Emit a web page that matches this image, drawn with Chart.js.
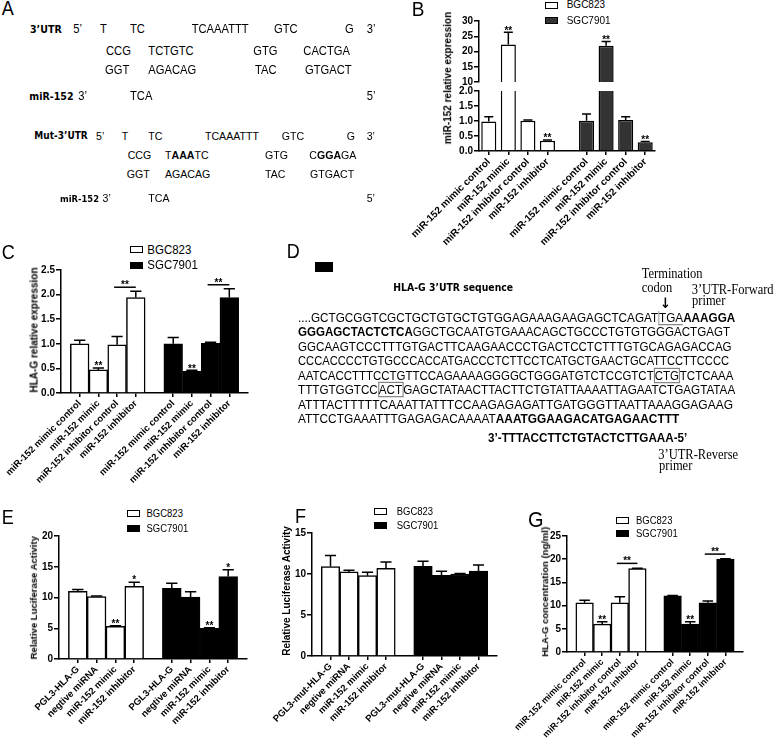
<!DOCTYPE html>
<html>
<head>
<meta charset="utf-8">
<script src="https://cdn.jsdelivr.net/npm/chart.js@4.4.0/dist/chart.umd.min.js"></script>
<style>
  html, body { margin: 0; padding: 0; background: #fff; }
  #stage { position: relative; width: 778px; height: 738px; overflow: hidden; background: #fff;
           font-family: "Liberation Sans", Arial, sans-serif; color: #000; }
  #stage canvas { position: absolute; }
  .t { position: absolute; white-space: nowrap; }
  .bx { border: 1px solid #777; }
  .ul { border-bottom: 1px solid #777; border-left: 1px solid #999; }
</style>
</head>
<body>
<div id="stage"></div>
<script>
// ---------- data ----------
const groups = ['BGC823', 'SGC7901'];
const mimicCats = ['miR-152 mimic control', 'miR-152 mimic', 'miR-152 inhibitor control', 'miR-152 inhibitor'];
const lucCats = ['PGL3-HLA-G', 'negtive miRNA', 'miR-152 mimic', 'miR-152 inhibitor'];
const mutCats = ['PGL3-mut-HLA-G', 'negtive miRNA', 'miR-152 mimic', 'miR-152 inhibitor'];

// B: miR-152 relative expression (broken axis)
const bBgc = [0.98, 22.3, 1.01, 0.34];
const bBgcErr = [0.16, 4.0, 0.02, 0.03];
const bSgc = [1.01, 21.9, 1.03, 0.29];
const bSgcErr = [0.22, 1.4, 0.11, 0.03];
const bStars = ['', '**', '', '**'];
const bUpperTicks = [10, 30, 5];
const bLowerTicks = [0, 2, 0.5];

// C: HLA-G relative expression
const cBgc = [1.0, 0.47, 0.98, 1.94];
const cBgcErr = [0.07, 0.04, 0.17, 0.13];
const cSgc = [1.0, 0.44, 1.01, 1.94];
const cSgcErr = [0.13, 0.02, 0.02, 0.18];
const cStars = ['', '**', '', ''];
const cBgcBracket = [2, 3, 2.15, '**'];
const cSgcBracket = [2, 3, 2.2, '**'];
const cTicks = [0, 2.5, 0.5];

// E: luciferase, wild type
const eBgc = [11.0, 10.15, 5.3, 11.8];
const eBgcErr = [0.3, 0.1, 0.1, 0.7];
const eSgc = [11.5, 10.05, 5.0, 13.4];
const eSgcErr = [0.8, 0.9, 0.1, 1.1];
const eStars = ['', '', '**', '*'];
const eTicks = [0, 20, 5];

// F: luciferase, mutant
const fBgc = [10.9, 10.25, 9.8, 10.7];
const fBgcErr = [1.35, 0.2, 0.4, 0.75];
const fSgc = [10.95, 9.85, 10.0, 10.35];
const fSgcErr = [0.6, 0.5, 0.05, 0.75];
const fStars = ['', '', '', ''];
const fTicks = [0, 15, 5];

// G: HLA-G concentration
const gBgc = [10.6, 6.0, 10.6, 18.0];
const gBgcErr = [0.55, 0.5, 1.3, 0.05];
const gSgc = [12.1, 6.0, 10.6, 20.0];
const gSgcErr = [0.05, 0.5, 0.4, 0.1];
const gStars = ['', '**', '', ''];
const gBgcBracket = [2, 3, 19.1, '**'];
const gSgcBracket = [2, 3, 21.1, '**'];
const gTicks = [0, 25, 5];

// ---------- helpers ----------
const stage = document.getElementById('stage');
const SANS = '"Liberation Sans", Arial, sans-serif';
const WIDE = '"DejaVu Sans", sans-serif';
const SERIF = '"Liberation Serif", "Times New Roman", serif';
const SY = 1.1;   // the source figure is slightly stretched vertically

function txt(html, x, base, size, opt) {
  opt = opt || {};
  const el = document.createElement('div');
  el.className = 't';
  el.innerHTML = html;
  el.style.left = x + 'px';
  el.style.top = (base - 0.845 * size) + 'px';
  el.style.fontSize = size + 'px';
  el.style.lineHeight = size + 'px';
  el.style.fontFamily = opt.family || SANS;
  if (opt.bold) el.style.fontWeight = 'bold';
  el.style.transformOrigin = '0 ' + (0.845 * size) + 'px';
  el.style.transform = 'scaleY(' + SY + ')';
  stage.appendChild(el);
  if (opt.width) {
    const sx = opt.width / el.offsetWidth;
    el.style.transform = 'scale(' + sx + ',' + SY + ')';
  }
  return el;
}

function ytitle(s, cx, cy, size) {
  const el = document.createElement('div');
  el.className = 't';
  el.textContent = s;
  el.style.font = 'bold ' + size + 'px ' + SANS;
  el.style.lineHeight = size + 'px';
  stage.appendChild(el);
  el.style.left = (cx - el.offsetWidth / 2) + 'px';
  el.style.top = (cy - size / 2) + 'px';
  el.style.transform = 'rotate(-90deg)';
}

function legend(boxX, rows, textX, size, dark) {
  groups.forEach(function (name, i) {
    const b = document.createElement('div');
    b.style.position = 'absolute';
    b.style.left = boxX + 'px';
    b.style.top = (rows[i] - 3.5) + 'px';
    b.style.width = '13px';
    b.style.height = '7px';
    b.style.boxSizing = 'border-box';
    b.style.border = '1.4px solid #000';
    b.style.background = i === 0 ? '#fff' : dark;
    stage.appendChild(b);
    txt(name, textX, rows[i] + 0.358 * size * SY, size);
  });
}

function rect(x, y, w, h) {
  const b = document.createElement('div');
  b.style.cssText = 'position:absolute;background:#000;left:' + x + 'px;top:' + y + 'px;width:' + w + 'px;height:' + h + 'px';
  stage.appendChild(b);
}

// ---------- chart plumbing ----------
Chart.defaults.color = '#000';
Chart.defaults.font.family = SANS;

const YW = 80, PT = 10, PR = 14, XH = 110;
const STAR_GAP = 4.5;

// error bars, stars and brackets drawn from the bar elements and the y scale
const marks = {
  id: 'marks',
  afterDatasetsDraw(chart) {
    const ctx = chart.ctx, a = chart.chartArea, y = chart.scales.y;
    ctx.save();
    ctx.beginPath();
    ctx.rect(a.left, a.top, a.right - a.left, a.bottom - a.top);
    ctx.clip();
    ctx.strokeStyle = '#000';
    ctx.fillStyle = '#000';
    ctx.lineWidth = 1.5;
    ctx.font = 'bold 10px ' + SANS;
    ctx.textAlign = 'center';
    ctx.textBaseline = 'alphabetic';
    chart.data.datasets.forEach(function (ds, di) {
      const meta = chart.getDatasetMeta(di);
      ds.data.forEach(function (v, i) {
        if (v === null) return;
        const bar = meta.data[i];
        const e = ds.errors[i] || 0;
        const top = y.getPixelForValue(v + e);
        const half = bar.width * 0.3;
        if (e > 0) {
          ctx.beginPath();
          ctx.moveTo(bar.x, bar.y);
          ctx.lineTo(bar.x, top);
          ctx.moveTo(bar.x - half, top);
          ctx.lineTo(bar.x + half, top);
          ctx.stroke();
        }
        if (ds.stars[i]) ctx.fillText(ds.stars[i], bar.x, top - STAR_GAP + 5.85);
      });
      if (ds.bracket) {
        const br = ds.bracket;
        const b1 = meta.data[ds.start + br[0]], b2 = meta.data[ds.start + br[1]];
        const yy = y.getPixelForValue(br[2]);
        ctx.beginPath();
        ctx.moveTo(b1.x - 3, yy);
        ctx.lineTo(b2.x, yy);
        ctx.stroke();
        ctx.fillText(br[3], (b1.x - 3 + b2.x) / 2, yy - 5 + 5.85);
      }
    });
    ctx.restore();
  }
};

function slots(cats, edge) {
  return edge ? [''].concat(cats, [''], cats, ['']) : cats.concat([''], cats);
}
function place(vals, group, edge) {
  const blank = vals.map(function () { return null; });
  const a = group === 0 ? vals : blank, b = group === 0 ? blank : vals;
  return edge ? [null].concat(a, [null], b, [null]) : a.concat([null], b);
}

function barPanel(p) {
  const area = p.area;
  const xh = p.hideX ? 0 : XH;
  const cv = document.createElement('canvas');
  cv.width = Math.round(area.r - area.l + YW + PR);
  cv.height = Math.round(area.b - area.t + PT + (p.hideX ? 8 : XH));
  cv.style.left = (area.l - YW) + 'px';
  cv.style.top = (area.t - PT) + 'px';
  stage.appendChild(cv);

  function ds(vals, errs, bracket, group, fill) {
    return {
      data: place(vals, group, p.edge),
      errors: place(errs, group, p.edge),
      stars: place(p.stars, group, p.edge),
      bracket: bracket,
      start: p.edge ? (group === 0 ? 1 : vals.length + 2) : (group === 0 ? 0 : vals.length + 1),
      backgroundColor: fill,
      borderColor: '#000',
      borderWidth: 1.5,
      borderSkipped: 'start',
      barPercentage: p.barPct,
      categoryPercentage: 1,
      grouped: false,
      clip: p.clip
    };
  }

  new Chart(cv, {
    type: 'bar',
    data: {
      labels: slots(p.cats, p.edge),
      datasets: [
        ds(p.white, p.whiteErr, p.whiteBr, 0, '#fff'),
        ds(p.black, p.blackErr, p.blackBr, 1, p.dark)
      ]
    },
    options: {
      responsive: false,
      animation: false,
      layout: { padding: { left: 0, top: PT, right: PR, bottom: p.hideX ? 8 : 0 } },
      plugins: { legend: { display: false }, tooltip: { enabled: false } },
      scales: {
        x: {
          display: !p.hideX,
          offset: !p.edge,
          grid: {
            offset: false, drawOnChartArea: false, tickLength: 4, lineWidth: 1.5,
            color: function (c) { return c.tick && c.tick.label ? '#000' : 'rgba(0,0,0,0)'; }
          },
          border: { display: true, color: '#000', width: 1.5 },
          ticks: { autoSkip: false, minRotation: 45, maxRotation: 45, padding: 1,
                   font: { size: p.xFont, weight: 'bold' } },
          afterFit: function (s) { s.height = xh; }
        },
        y: {
          min: p.ticks[0], max: p.ticks[1],
          ticks: { stepSize: p.ticks[2], padding: 1, font: { size: 10, weight: 'bold' },
                   callback: function (v) { return p.dec ? v.toFixed(1) : String(v); } },
          grid: { drawOnChartArea: false, tickLength: 5, lineWidth: 1.5, color: '#000' },
          border: { display: true, color: '#000', width: 1.5 },
          afterFit: function (s) { s.width = YW; }
        }
      }
    },
    plugins: [marks]
  });
}

// ---------- panel B ----------
const bArea = { l: 479, r: 655.4 };
barPanel({ area: { l: bArea.l, r: bArea.r, t: 21, b: 81.7 }, cats: mimicCats, edge: false, hideX: true,
  white: bBgc, whiteErr: bBgcErr, black: bSgc, blackErr: bSgcErr, stars: bStars,
  ticks: bUpperTicks, dec: false, barPct: 0.77, dark: '#333', clip: 0, xFont: 10 });
barPanel({ area: { l: bArea.l, r: bArea.r, t: 91, b: 151 }, cats: mimicCats, edge: false, hideX: false,
  white: bBgc, whiteErr: bBgcErr, black: bSgc, blackErr: bSgcErr, stars: bStars,
  ticks: bLowerTicks, dec: true, barPct: 0.77, dark: '#333', clip: 0, xFont: 10 });
ytitle('miR-152 relative expression', 448, 78, 10);
legend(545, [5, 20.5], 566.7, 10, '#333');

// ---------- panel C ----------
barPanel({ area: { l: 61, r: 248, t: 270, b: 393 }, cats: mimicCats, edge: true,
  white: cBgc, whiteErr: cBgcErr, black: cSgc, blackErr: cSgcErr, stars: cStars,
  whiteBr: cBgcBracket, blackBr: cSgcBracket,
  ticks: cTicks, dec: true, barPct: 1, dark: '#000', xFont: 9.5 });
ytitle('HLA-G relative expression', 34.5, 330, 10);
legend(130, [249.7, 265.5], 147.3, 11.5, '#000');

// ---------- panel E ----------
barPanel({ area: { l: 59, r: 247, t: 535.7, b: 658.3 }, cats: lucCats, edge: true,
  white: eBgc, whiteErr: eBgcErr, black: eSgc, blackErr: eSgcErr, stars: eStars,
  ticks: eTicks, dec: false, barPct: 1, dark: '#000', xFont: 9.5 });
ytitle('Relative Luciferase Activity', 33.5, 598, 9.5);
legend(126.5, [513.5, 528], 146.5, 9.5, '#000');

// ---------- panel F ----------
barPanel({ area: { l: 312, r: 497, t: 532.7, b: 656 }, cats: mutCats, edge: true,
  white: fBgc, whiteErr: fBgcErr, black: fSgc, blackErr: fSgcErr, stars: fStars,
  ticks: fTicks, dec: false, barPct: 1, dark: '#000', xFont: 9.5 });
ytitle('Relative Luciferase Activity', 287, 591, 10);
legend(374, [511.7, 525.5], 396.7, 9.5, '#000');

// ---------- panel G ----------
barPanel({ area: { l: 567.3, r: 743.3, t: 536, b: 651.7 }, cats: mimicCats, edge: true,
  white: gBgc, whiteErr: gBgcErr, black: gSgc, blackErr: gSgcErr, stars: gStars,
  whiteBr: gBgcBracket, blackBr: gSgcBracket,
  ticks: gTicks, dec: false, barPct: 1, dark: '#000', xFont: 9 });
ytitle('HLA-G concentration (ng/ml)', 545, 592, 9.5);
legend(616, [520, 533], 636, 9.5, '#000');

// ---------- panel letters ----------
txt('A', 1.7, 15, 18);
txt('B', 411.7, 16, 19);
txt('C', 1.7, 259, 18);
txt('D', 286.7, 258, 18);
txt('E', 1.7, 524, 18);
txt('F', 295, 523.3, 18);
txt('G', 528, 526.7, 20);

// ---------- panel A: binding site ----------
const boldLab = { bold: true, family: WIDE };
txt('3’UTR', 30, 33, 9.5, boldLab);
[['5’', 73.3], ['T', 100], ['TC', 130], ['TCAAATTT', 191.7], ['GTC', 274], ['G', 345], ['3’', 366.7]]
  .forEach(function (s) { txt(s[0], s[1], 33.3, 11.2); });
[['CCG', 106], ['TCTGTC', 148.3], ['GTG', 253.3], ['CACTGA', 303.3]]
  .forEach(function (s) { txt(s[0], s[1], 55, 11.2); });
[['GGT', 105], ['AGACAG', 148.3], ['TAC', 255], ['GTGACT', 305]]
  .forEach(function (s) { txt(s[0], s[1], 74, 11.2); });
txt('miR-152', 29.3, 100, 9.5, boldLab);
[['3’', 78.3], ['TCA', 130], ['5’', 366.7]]
  .forEach(function (s) { txt(s[0], s[1], 100, 11.2); });

txt('Mut-3’UTR', 34.3, 140, 9, boldLab);
[['5’', 96], ['T', 121.7], ['TC', 148.3], ['TCAAATTT', 205], ['GTC', 281.7], ['G', 346.7], ['3’', 366.7]]
  .forEach(function (s) { txt(s[0], s[1], 140, 10.6); });
[['CCG', 127.7], ['T<b>AAA</b>TC', 165], ['GTG', 265], ['C<b>GGA</b>GA', 309.3]]
  .forEach(function (s) { txt(s[0], s[1], 159.3, 10.6); });
[['GGT', 126.7], ['AGACAG', 165], ['TAC', 265], ['GTGACT', 310]]
  .forEach(function (s) { txt(s[0], s[1], 178.3, 10.6); });
txt('miR-152', 60, 201.7, 8.4, boldLab);
[['3’', 102.5], ['TCA', 148.3], ['5’', 366.7]]
  .forEach(function (s) { txt(s[0], s[1], 201.7, 10.6); });

// ---------- panel D: 3'UTR sequence ----------
rect(315, 262, 18, 10);
txt('HLA-G 3’UTR sequence', 393.3, 290.7, 9.3, boldLab);
txt('Termination', 641.7, 278.3, 12.5, { family: SERIF });
txt('codon', 641.7, 292.7, 12.5, { family: SERIF });
txt('3’UTR-Forward', 691.7, 295, 12.5, { family: SERIF });
txt('primer', 692, 305.7, 12.5, { family: SERIF });
txt('↓', 660, 307.5, 13, { family: WIDE, bold: true });

const seqLines = [
  ['....GCTGCGGTCGCTGCTGTGCTGTGGAGAAAGAAGAGCTCAGAT<span class="ul">TGA</span><b>AAAGGA</b>', 736],
  ['<b>GGGAGCTACTCTCA</b>GGCTGCAATGTGAAACAGCTGCCCTGTGTGGGACTGAGT', 730.7],
  ['GGCAAGTCCCTTTGTGACTTCAAGAACCCTGACTCCTCTTTGTGCAGAGACCAG', 732.3],
  ['CCCACCCCTGTGCCCACCATGACCCTCTTCCTCATGCTGAACTGCATTCCTTCCCC', 729],
  ['AATCACCTTTCCTGTTCCAGAAAAGGGGCTGGGATGTCTCCGTCT<span class="bx">CTG</span>TCTCAAA', 734],
  ['TTTGTGGTCC<span class="bx">ACT</span>GAGCTATAACTTACTTCTGTATTAAAATTAGAATCTGAGTATAA', 735],
  ['ATTTACTTTTTCAAATTATTTCCAAGAGAGATTGATGGGTTAATTAAAGGAGAAG', 733.3],
  ['ATTCCTGAAATTTGAGAGACAAAAT<b>AAATGGAAGACATGAGAACTTT</b>', 680]
];
seqLines.forEach(function (l, k) {
  txt(l[0], 298.3, 322.7 + 14.43 * k, 11.5, { width: l[1] - 298.3 });
});
txt('3’-TTTACCTTCTGTACTCTTGAAA-5’', 488.3, 442.7, 11.5, { bold: true, width: 199 });
txt('3’UTR-Reverse', 658.3, 460, 12.5, { family: SERIF });
txt('primer', 659, 470.5, 12.5, { family: SERIF });
</script>
</body>
</html>
